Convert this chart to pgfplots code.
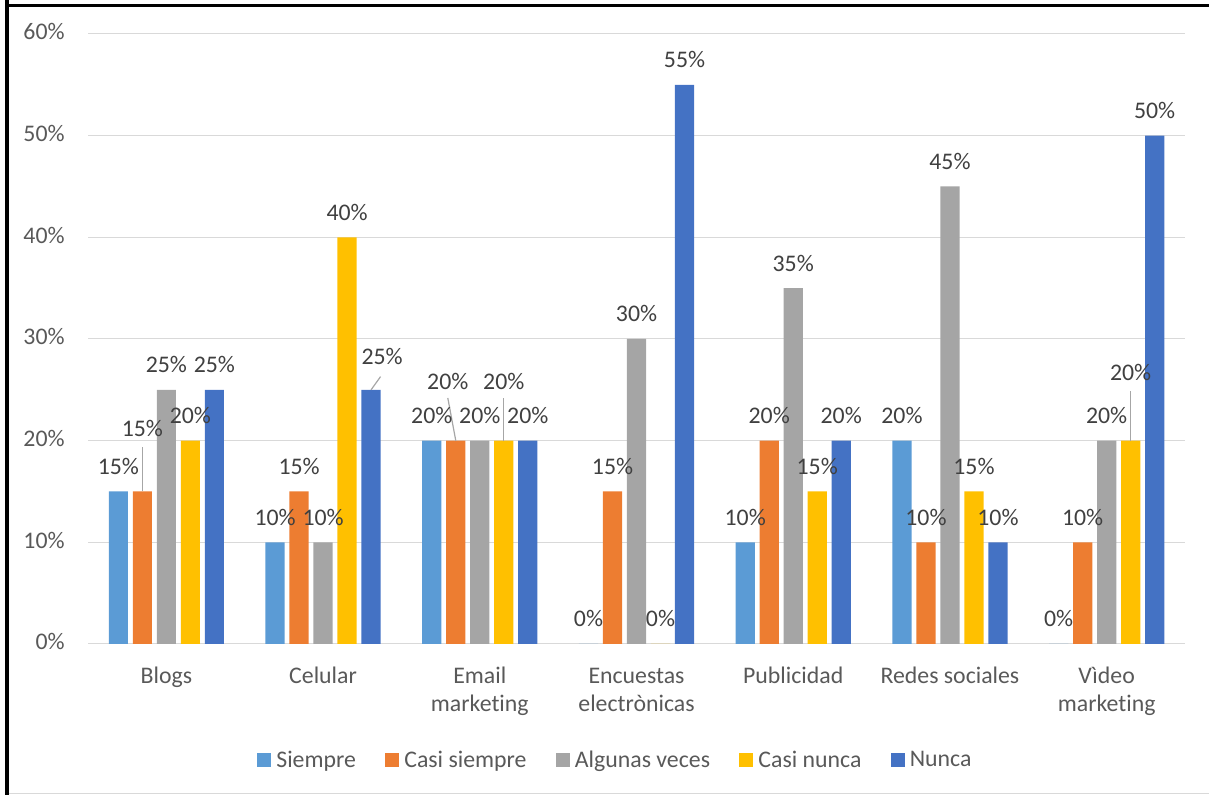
\documentclass[border=0pt]{standalone}
\usepackage{pgfplots}
\pgfplotsset{compat=1.18}
\usepackage{fontspec}
\setmainfont{Carlito}[Ligatures=NoCommon]
\definecolor{cA}{HTML}{5B9BD5}
\definecolor{cB}{HTML}{ED7D31}
\definecolor{cC}{HTML}{A5A5A5}
\definecolor{cD}{HTML}{FFC000}
\definecolor{cE}{HTML}{4472C4}
\definecolor{txt}{HTML}{595959}
\definecolor{lbl}{HTML}{404040}
\definecolor{gridc}{HTML}{D9D9D9}
\definecolor{leader}{HTML}{A6A6A6}

\pgfplotsset{
  sq legend/.style={legend image code/.code={\fill[##1] (0pt,-3.5pt) rectangle (7pt,3.5pt);}},
}

\begin{document}
\begin{tikzpicture}[font=\fontsize{11.9}{14.2}\selectfont]
\useasboundingbox (0,0) rectangle (604.5pt,397.5pt);
\draw[gridc, line width=0.6pt] (4pt,0.9pt) -- (604.5pt,0.9pt);
\draw[black, line width=2pt] (3.5pt,0) -- (3.5pt,397.5pt);
\draw[black, line width=1.5pt] (2.5pt,394.75pt) -- (604.5pt,394.75pt);
\begin{axis}[
  at={(44pt,75.5pt)}, anchor=south west,
  scale only axis, width=548.5pt, height=305pt,
  xmin=-0.5, xmax=6.5, ymin=0, ymax=60,
  ybar, bar width=9.6pt,
  axis lines*=left, axis line style={draw=none},
  major tick length=0pt, tick style={draw=none},
  ymajorgrids, grid style={gridc, line width=0.5pt},
  ytick={0,10,...,60},
  yticklabels={0\%,10\%,20\%,30\%,40\%,50\%,60\%},
  yticklabel style={anchor=east, inner sep=0pt, xshift=-11.5pt, text=txt},
  xtick={0,...,6},
  xticklabels={Blogs,Celular,{Email\\marketing},{Encuestas\\electrònicas},Publicidad,Redes sociales,{Vìdeo\\marketing}},
  typeset ticklabels with strut,
  xticklabel style={align=center, anchor=north, inner sep=0pt, yshift=-9.5pt, text=txt},
  /pgf/number format/assume math mode=true,
  nodes near coords={\pgfmathprintnumber{\pgfplotspointmeta}\%},
  every node near coord/.append style={anchor=base, inner sep=0pt, text=lbl, yshift=8.5pt},
  legend style={at={(0.154,-0.191)}, anchor=west, draw=none, fill=none, inner sep=0pt,
    text=txt, nodes={inner sep=0pt},
    /tikz/every odd column/.append style={column sep=2.5pt},
    /tikz/every even column/.append style={column sep=14.7pt}},
  legend columns=-1,
  clip=false,
]
\addplot[draw=none, fill=cA, bar shift=-24pt, sq legend]
  coordinates {(0,15) (1,10) (2,20) (3,0) (4,10) (5,20) (6,0)};
\addplot[draw=none, fill=cB, bar shift=-12pt, sq legend,
  coordinate style/.condition={x==0}{yshift=19pt},
  coordinate style/.condition={x==2}{xshift=-4pt, yshift=17pt}]
  coordinates {(0,15) (1,15) (2,20) (3,15) (4,20) (5,10) (6,10)};
\addplot[draw=none, fill=cC, bar shift=0pt, sq legend]
  coordinates {(0,25) (1,10) (2,20) (3,30) (4,35) (5,45) (6,20)};
\addplot[draw=none, fill=cD, bar shift=12pt, sq legend,
  coordinate style/.condition={x==2}{yshift=17pt},
  coordinate style/.condition={x==6}{yshift=21.5pt}]
  coordinates {(0,20) (1,40) (2,20) (3,0) (4,15) (5,15) (6,20)};
\addplot[draw=none, fill=cE, bar shift=24pt, sq legend,
  coordinate style/.condition={x==1}{xshift=5.5pt, yshift=4pt}]
  coordinates {(0,25) (1,25) (2,20) (3,55) (4,20) (5,10) (6,50)};
\legend{Siempre,Casi siempre,Algunas veces,Casi nunca,Nunca}
\draw[leader, line width=0.6pt] ([xshift=-12pt]axis cs:0,15) -- ([xshift=-12pt]axis cs:0,19.4);
\draw[leader, line width=0.6pt] ([xshift=24pt]axis cs:1,25) -- ([xshift=28.75pt]axis cs:1,26.3);
\draw[leader, line width=0.6pt] ([xshift=-12pt]axis cs:2,20) -- ([xshift=-16pt]axis cs:2,24.2);
\draw[leader, line width=0.6pt] ([xshift=12pt]axis cs:2,20) -- ([xshift=12pt]axis cs:2,24.2);
\draw[leader, line width=0.6pt] ([xshift=12pt]axis cs:6,20) -- ([xshift=12pt]axis cs:6,24.9);
\end{axis}
\end{tikzpicture}
\end{document}
